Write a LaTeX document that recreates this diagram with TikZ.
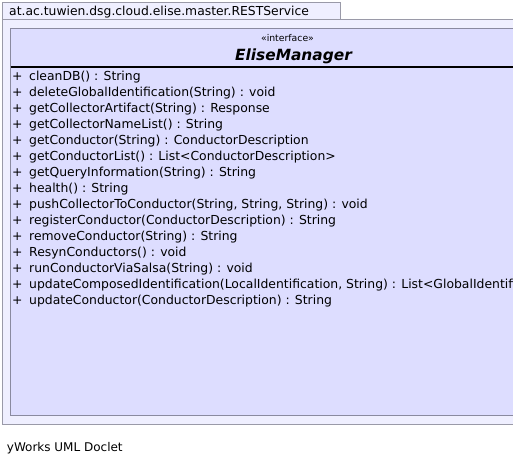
\documentclass[tikz,border=0pt]{standalone}
\usepackage{fontspec}
\setmainfont{DejaVu Sans}
\definecolor{pkgfill}{HTML}{EFEFFF}
\definecolor{pkgline}{HTML}{9A9AA8}
\definecolor{clsfill}{HTML}{DDDDFF}
\definecolor{clsline}{HTML}{8A8AA0}
\tikzset{
  pkgbox/.style={draw=pkgline, fill=pkgfill, line width=1pt},
  clsbox/.style={draw=clsline, fill=clsfill, line width=1pt},
  meth/.style={anchor=base west, inner sep=0pt, font=\fontsize{12.4}{14}\selectfont},
  plus/.style={anchor=base west, inner sep=0pt, font=\fontsize{12.4}{14}\selectfont},
}
\begin{document}
\begin{tikzpicture}[x=1pt,y=-1pt]
\useasboundingbox (0,0) rectangle (513,463);
\clip (0,0) rectangle (513,463);
\fill[white] (0,0) rectangle (513,463);
% package
\draw[pkgbox] (2.5,19) rectangle (530,424);
\draw[pkgbox] (2.5,2.7) rectangle (340.7,19);
\node[anchor=base west, inner sep=0pt, font=\fontsize{12.35}{14}\selectfont] (pkg) at (9,15) {at.ac.tuwien.dsg.cloud.elise.master.RESTService};
% class
\draw[clsbox] (10.7,28) rectangle (580,415.7);
\coordinate (hl) at (10.7,66.7);
\coordinate (hr) at (580,66.7);
\draw[black, line width=2pt] (hl) -- (hr);
\node[anchor=base, inner sep=0pt, font=\fontsize{9.3}{11}\selectfont] (st) at (287.5,41.7) {«interface»};
\node[anchor=base, inner sep=0pt, font=\fontsize{15.4}{18}\selectfont\bfseries\itshape] (cn) at (293.5,60) {EliseManager};
\foreach \t [count=\i from 0] in {
  {cleanDB() : String},
  {deleteGlobalIdentification(String) : void},
  {getCollectorArtifact(String) : Response},
  {getCollectorNameList() : String},
  {getConductor(String) : ConductorDescription},
  {getConductorList() : List<ConductorDescription>},
  {getQueryInformation(String) : String},
  {health() : String},
  {pushCollectorToConductor(String, String, String) : void},
  {registerConductor(ConductorDescription) : String},
  {removeConductor(String) : String},
  {ResynConductors() : void},
  {runConductorViaSalsa(String) : void},
  {updateComposedIdentification(LocalIdentification, String) : List<GlobalIdentification>},
  {updateConductor(ConductorDescription) : String}} {
  \node[plus] (p\i) at (12,80.5+16*\i) {+};
  \node[meth] (m\i) at (29,80.5+16*\i) {\t};
}
\node[anchor=base west, inner sep=0pt, font=\fontsize{12}{14}\selectfont] (foot) at (6.7,451) {yWorks UML Doclet};
\end{tikzpicture}
\end{document}
